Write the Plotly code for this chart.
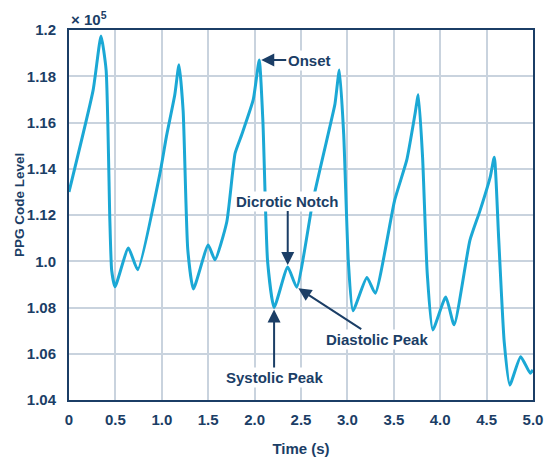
import plotly.graph_objects as go

# Time (s) and PPG code values
time_s = [0.0, 0.26, 0.345, 0.40, 0.44, 0.46, 0.496, 0.64, 0.74, 0.98, 1.05, 1.14, 1.185,
          1.23, 1.28, 1.34, 1.50, 1.573, 1.70, 1.79, 1.86, 1.986, 2.05,
          2.09, 2.14, 2.21, 2.357, 2.453, 2.63, 2.81, 2.866, 2.913,
          2.96, 3.01, 3.06, 3.21, 3.30, 3.51, 3.64, 3.73, 3.764,
          3.81, 3.86, 3.92, 4.06, 4.15, 4.32, 4.43, 4.54, 4.583,
          4.63, 4.69, 4.75, 4.867, 4.97, 5.0]
ppg_code = [113000, 117400, 119740, 118270, 111800, 109600, 108900, 110570, 109630, 113800, 115400, 117200, 118500,
            116500, 110500, 108800, 110700, 110060, 111700, 114670, 115460, 117000, 118700,
            116000, 110000, 108000, 109750, 108880, 112650, 115800, 116800, 118270,
            115500, 110000, 107860, 109300, 108620, 112650, 114380, 116400, 117200,
            114500, 109500, 107030, 108450, 107250, 110900, 112200, 113660, 114500,
            111000, 106500, 104650, 105870, 105160, 105300]

x_ticks = [0, 0.5, 1.0, 1.5, 2.0, 2.5, 3.0, 3.5, 4.0, 4.5, 5.0]
x_tick_labels = ["0", "0.5", "1.0", "1.5", "2.0", "2.5", "3.0", "3.5", "4.0", "4.5", "5.0"]
y_ticks = [104000, 106000, 108000, 110000, 112000, 114000, 116000, 118000, 120000]
y_tick_labels = ["1.04", "1.06", "1.08", "1.0", "1.12", "1.14", "1.16", "1.18", "1.2"]

# annotations: label, point (time, code), text offset in px
notes = [
    ("Onset", 2.05, 118700, 27, 0, "left"),
    ("Dicrotic Notch", 2.357, 109750, 0, -66, "center"),
    ("Systolic Peak", 2.21, 108000, 0, 70, "center"),
    ("Diastolic Peak", 2.453, 108880, 80, 52, "center"),
]

NAVY = "#1B3E66"
LINE = "#1BA8D5"
GRID = "#C9D3DE"
FONT = "Liberation Sans, Arial, sans-serif"

fig = go.Figure()
fig.add_trace(go.Scatter(x=time_s, y=ppg_code, mode="lines",
                         line=dict(color=LINE, width=3, shape="spline", smoothing=0.5),
                         hoverinfo="skip", showlegend=False))

for text, tx, ty, ax, ay, anchor in notes:
    fig.add_annotation(x=tx, y=ty, xref="x", yref="y", text="<b>%s</b>" % text,
                       showarrow=True, arrowhead=2, arrowsize=1.3, arrowwidth=2,
                       arrowcolor=NAVY, ax=ax, ay=ay, standoff=2,
                       xanchor=anchor,
                       bgcolor="white", borderpad=1,
                       font=dict(family=FONT, size=15, color=NAVY))

fig.add_annotation(x=0, y=1, xref="paper", yref="paper", xanchor="left", yanchor="bottom",
                   xshift=0, yshift=0, showarrow=False,
                   text="<b>× 10<sup>5</sup></b>", font=dict(family=FONT, size=15, color=NAVY))

# y-axis title placed as a rotated annotation (slightly above the axis centre, as in the reference)
fig.add_annotation(x=0, y=0.5, xref="paper", yref="paper", xanchor="center", yanchor="middle",
                   xshift=-50, yshift=10, showarrow=False, textangle=-90,
                   text="<b>PPG Code Level</b>", font=dict(family=FONT, size=13.5, color=NAVY))

fig.update_layout(
    width=546, height=457,
    margin=dict(l=69, r=13, t=30, b=57, autoexpand=False),
    plot_bgcolor="white", paper_bgcolor="white",
    font=dict(family=FONT, color=NAVY),
    xaxis=dict(range=[0, 5], tickvals=x_ticks, ticktext=["<b>%s</b>" % t for t in x_tick_labels],
               showgrid=True, gridcolor=GRID, gridwidth=1.5, zeroline=False, automargin=False,
               showline=True, linecolor=NAVY, linewidth=2, mirror=True, ticks="",
               tickfont=dict(size=15, color=NAVY), ticklabelstandoff=5,
               title=dict(text="<b>Time (s)</b>", font=dict(size=15, color=NAVY), standoff=24)),
    yaxis=dict(range=[104000, 120000], tickvals=y_ticks, ticktext=["<b>%s</b>" % t for t in y_tick_labels],
               showgrid=True, gridcolor=GRID, gridwidth=1.5, zeroline=False, automargin=False,
               showline=True, linecolor=NAVY, linewidth=2, mirror=True, ticks="",
               tickfont=dict(size=15, color=NAVY), ticklabelstandoff=8),
)

# remove the page's default 8px body margin so the 546x457 figure fills the window
fig.write_html("out.html", config={"displayModeBar": False},
               post_script="document.body.style.margin='0';document.body.style.overflow='hidden';")
